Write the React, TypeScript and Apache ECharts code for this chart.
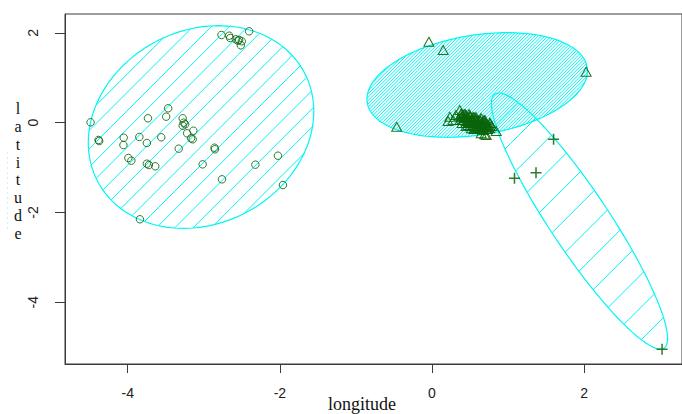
import React, { useEffect, useRef } from "react";
import * as echarts from "echarts";

// ---------- data ----------
const X_MIN = -4.824;
const X_MAX = 3.286;
const Y_MIN = -5.374;
const Y_MAX = 2.421;
const X_TICKS = [-4, -2, 0, 2];
const Y_TICKS = [-4, -2, 0, 2];

// cluster 1 (circles)
const CLUSTER1: [number, number][] = [
  [-2.404, 2.036], [-2.767, 1.953], [-2.666, 1.938], [-2.653, 1.886], [-2.578, 1.857],
  [-2.535, 1.842], [-2.5, 1.813], [-2.513, 1.724], [-2.552, 1.826], [-4.488, 0.009],
  [-4.383, -0.385], [-4.375, -0.408], [-4.052, -0.334], [-4.056, -0.497], [-3.847, -0.318],
  [-3.748, -0.452], [-3.734, 0.098], [-3.468, 0.321], [-3.494, 0.134], [-3.559, -0.325],
  [-3.277, 0.098], [-3.264, 0.0], [-3.245, -0.036], [-3.277, -0.067], [-3.137, -0.178],
  [-3.219, -0.236], [-3.167, -0.347], [-3.146, -0.37], [-3.329, -0.579], [-2.858, -0.557],
  [-2.853, -0.592], [-3.991, -0.786], [-3.952, -0.846], [-3.748, -0.913], [-3.721, -0.942],
  [-3.638, -0.971], [-3.015, -0.927], [-2.761, -1.261], [-2.322, -0.935], [-2.025, -0.735],
  [-1.959, -1.388], [-3.839, -2.151],
];

// cluster 2 (triangles)
const CLUSTER2: [number, number][] = [
  [-0.041, 1.804], [0.147, 1.619], [2.026, 1.136], [-0.464, -0.089],
  [0.234, 0.134], [0.212, 0.038], [0.277, 0.06], [0.365, 0.283], [0.313, 0.171],
  [0.386, 0.209], [0.692, 0.022], [0.713, -0.274], [0.844, -0.185], [0.735, -0.051],
  [0.757, -0.125], [0.692, -0.258], [0.647, -0.236], [0.517, -0.125], [0.561, -0.125],
  [0.395, 0.149], [0.421, 0.194], [0.447, 0.171], [0.474, 0.127], [0.5, 0.149],
  [0.526, 0.105], [0.552, 0.127], [0.578, 0.082], [0.604, 0.06], [0.631, 0.038],
  [0.657, 0.016], [0.683, -0.029], [0.709, -0.051], [0.735, -0.096], [0.408, 0.06],
  [0.447, 0.038], [0.487, 0.016], [0.526, 0.038], [0.565, -0.007], [0.604, -0.029],
  [0.644, -0.051], [0.683, -0.096], [0.722, -0.14], [0.474, -0.051], [0.526, -0.074],
  [0.578, -0.096], [0.631, -0.118], [0.67, -0.163], [0.434, 0.105], [0.539, 0.06],
  [0.591, 0.016], [0.644, 0.105], [0.696, 0.06], [0.761, -0.007], [0.787, -0.074],
  [0.382, 0.194], [0.434, 0.194], [0.487, 0.194],
  [0.382, 0.127], [0.421, 0.127], [0.46, 0.127], [0.5, 0.127], [0.539, 0.127], [0.578, 0.127],
  [0.369, 0.06], [0.421, 0.06], [0.474, 0.06], [0.526, 0.06], [0.578, 0.06], [0.631, 0.06],
  [0.683, 0.06],
  [0.395, -0.007], [0.447, -0.007], [0.5, -0.007], [0.552, -0.007], [0.604, -0.007],
  [0.657, -0.007], [0.709, -0.007], [0.761, -0.007],
  [0.447, -0.074], [0.5, -0.074], [0.552, -0.074], [0.604, -0.074], [0.657, -0.074],
  [0.709, -0.074], [0.761, -0.074],
  [0.552, -0.14], [0.604, -0.14], [0.657, -0.14], [0.709, -0.14],
];

// cluster 3 (crosses)
const CLUSTER3: [number, number][] = [
  [1.598, -0.37], [1.367, -1.114], [1.084, -1.238], [3.024, -5.047],
];

const LABEL3_POS: [number, number] = [0.755, 0.414];

// ellipses: centre and two conjugate half-axis vectors (data units)
const ELL_CX = [-3.036, 0.594, 1.939];
const ELL_CY = [-0.096, 0.84, -2.189];
const ELL_UX = [1.482, 1.449, 1.112];
const ELL_UY = [0.35, 0.314, -2.828];
const ELL_VX = [0.0, 0.0, 0.322];
const ELL_VY = [2.229, 1.122, 0.367];
// hatch spacing (pixels along x+y) and phase
const HATCH_SPACING = [18.3, 3.3, 32.7];
const HATCH_PHASE = [0, 0, 0];

const GREEN = "#0b650b";
const CYAN = "#00f5f5";

function renderEllipse(params: any, api: any) {
  const i = params.dataIndex;
  const N = 160;
  const pts: number[][] = [];
  for (let k = 0; k <= N; k++) {
    const t = (2 * Math.PI * k) / N;
    const x = ELL_CX[i] + ELL_UX[i] * Math.cos(t) + ELL_VX[i] * Math.sin(t);
    const y = ELL_CY[i] + ELL_UY[i] * Math.cos(t) + ELL_VY[i] * Math.sin(t);
    pts.push(api.coord([x, y]));
  }
  let sMin = Infinity;
  let sMax = -Infinity;
  pts.forEach((p) => {
    const s = p[0] + p[1];
    if (s < sMin) sMin = s;
    if (s > sMax) sMax = s;
  });
  const sp = HATCH_SPACING[i];
  const ph = HATCH_PHASE[i];
  const children: any[] = [];
  for (let c = Math.ceil((sMin - ph) / sp) * sp + ph; c <= sMax; c += sp) {
    const hits: number[][] = [];
    for (let k = 0; k < pts.length - 1; k++) {
      const a = pts[k];
      const b = pts[k + 1];
      const sa = a[0] + a[1];
      const sb = b[0] + b[1];
      if ((sa - c) * (sb - c) <= 0 && sa !== sb) {
        const f = (c - sa) / (sb - sa);
        hits.push([a[0] + f * (b[0] - a[0]), a[1] + f * (b[1] - a[1])]);
      }
    }
    if (hits.length >= 2) {
      hits.sort((p, q) => p[0] - q[0]);
      const p1 = hits[0];
      const p2 = hits[hits.length - 1];
      children.push({
        type: "line",
        shape: { x1: p1[0], y1: p1[1], x2: p2[0], y2: p2[1] },
        style: { stroke: CYAN, lineWidth: 1 },
        silent: true,
      });
    }
  }
  children.push({
    type: "polygon",
    shape: { points: pts },
    style: { fill: "none", stroke: CYAN, lineWidth: 1.2 },
    silent: true,
  });
  return { type: "group", children };
}

const PLUS_PATH = "path://M4.3,0H5.7V4.3H10V5.7H5.7V10H4.3V5.7H0V4.3H4.3Z";

export default function App() {
  const ref = useRef<HTMLDivElement>(null);
  useEffect(() => {
    if (!ref.current) return;
    const chart = echarts.init(ref.current, null, { renderer: "svg" });
    const tickFont = "Liberation Sans, Arial, sans-serif";
    chart.setOption({
      animation: false,
      backgroundColor: "#ffffff",
      grid: {
        left: 65,
        top: 14,
        bottom: 50,
        right: -3,
        show: true,
        borderColor: "#3a3a3a",
        borderWidth: 1,
        backgroundColor: "transparent",
      },
      xAxis: {
        type: "value",
        min: X_MIN,
        max: X_MAX,
        splitLine: { show: false },
        axisLine: { show: true, onZero: false, lineStyle: { color: "#3a3a3a" } },
        axisTick: {
          show: true,
          length: 9,
          customValues: X_TICKS,
          lineStyle: { color: "#3a3a3a" },
        },
        axisLabel: {
          customValues: X_TICKS,
          margin: 22,
          fontSize: 14,
          color: "#222",
          fontFamily: tickFont,
        },
      },
      yAxis: {
        type: "value",
        min: Y_MIN,
        max: Y_MAX,
        splitLine: { show: false },
        axisLine: { show: true, onZero: false, lineStyle: { color: "#3a3a3a" } },
        axisTick: {
          show: true,
          length: 10,
          customValues: Y_TICKS,
          lineStyle: { color: "#3a3a3a" },
        },
        axisLabel: {
          customValues: Y_TICKS,
          rotate: 90,
          margin: 25,
          fontSize: 14,
          color: "#222",
          fontFamily: tickFont,
        },
      },
      graphic: [
        {
          type: "text",
          x: 362,
          y: 404,
          style: {
            text: "longitude",
            fill: "#111",
            font: "18px 'Liberation Serif', 'Times New Roman', serif",
            textAlign: "center",
            textVerticalAlign: "middle",
          },
        },
        {
          type: "text",
          x: 18,
          y: 171,
          style: {
            text: "latitude".split("").join("\n"),
            fill: "#111",
            font: "16px 'Liberation Serif', 'Times New Roman', serif",
            lineHeight: 17.8,
            textAlign: "center",
            textVerticalAlign: "middle",
          },
        },
        {
          type: "line",
          shape: { x1: 7.5, y1: 152, x2: 7.5, y2: 230 },
          style: { stroke: "#c8f4f4", lineWidth: 1, lineDash: [2, 3] },
        },
      ],
      series: [
        {
          type: "custom",
          coordinateSystem: "cartesian2d",
          renderItem: renderEllipse,
          data: ELL_CX.map((cx, i) => [cx, ELL_CY[i]]),
          silent: true,
          z: 1,
        },
        {
          type: "scatter",
          data: CLUSTER1,
          symbol: "circle",
          symbolSize: 7.5,
          itemStyle: { color: "rgba(0,0,0,0)", borderColor: GREEN, borderWidth: 1, opacity: 0.85 },
          z: 3,
        },
        {
          type: "scatter",
          data: CLUSTER2,
          symbol: "triangle",
          symbolSize: [10, 9],
          itemStyle: { color: "rgba(0,0,0,0)", borderColor: GREEN, borderWidth: 1, opacity: 0.9 },
          z: 3,
        },
        {
          type: "scatter",
          data: CLUSTER3,
          symbol: PLUS_PATH,
          symbolSize: 11,
          itemStyle: { color: GREEN, opacity: 0.85 },
          z: 3,
        },
        {
          type: "scatter",
          data: [LABEL3_POS],
          symbol: "none",
          symbolSize: 0,
          label: {
            show: true,
            position: "inside",
            formatter: "3",
            color: "#4d7a2e",
            fontSize: 15,
            fontFamily: tickFont,
          },
          z: 4,
        },
      ],
    });
    return () => chart.dispose();
  }, []);
  return (
    <div
      ref={ref}
      style={{ position: "fixed", left: 0, top: 0, width: 682, height: 414 }}
    />
  );
}
